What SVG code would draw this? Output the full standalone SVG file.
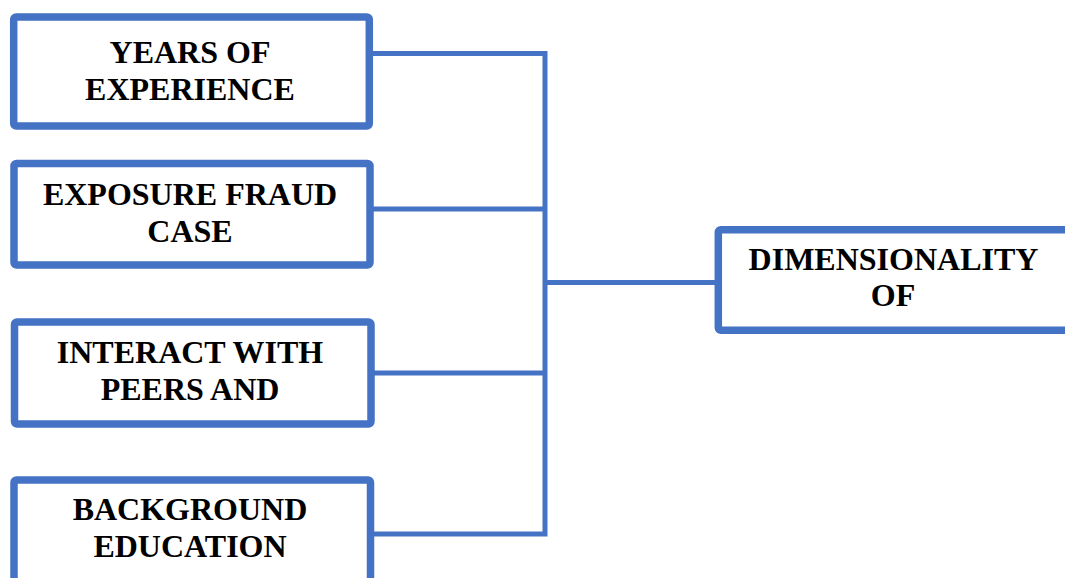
<svg xmlns="http://www.w3.org/2000/svg" width="1065" height="578" viewBox="0 0 1065 578">
<style>
.box{fill:#fff;stroke:#4472C4;stroke-width:7.5}
.lbl{font-family:"Liberation Serif","Times New Roman",serif;font-weight:bold;font-size:32px;fill:#000;text-anchor:middle}
.con{fill:none;stroke:#4472C4;stroke-width:5}
</style>
<rect width="1065" height="578" fill="#fff"/>
<g id="connectors">
<path class="con" d="M370 53.5H545M370 209H545M371 373H545M371 534H545M545 51V536.5M545 282.5H718"/>
</g>
<g id="n1">
<rect class="box" x="13.7" y="17" width="355.6" height="109" rx="2.5"/>
<text class="lbl" x="190" y="62.5">YEARS OF</text>
<text class="lbl" x="190" y="100">EXPERIENCE</text>
</g>
<g id="n2">
<rect class="box" x="14" y="163.5" width="356" height="101.5" rx="2.5"/>
<text class="lbl" x="190" y="205">EXPOSURE FRAUD</text>
<text class="lbl" x="190" y="241.5">CASE</text>
</g>
<g id="n3">
<rect class="box" x="14.5" y="322" width="356.5" height="102" rx="2.5"/>
<text class="lbl" x="190" y="362.5">INTERACT WITH</text>
<text class="lbl" x="190" y="400">PEERS AND</text>
</g>
<g id="n4">
<rect class="box" x="14" y="480" width="356.5" height="110" rx="2.5"/>
<text class="lbl" x="190" y="520">BACKGROUND</text>
<text class="lbl" x="190" y="557">EDUCATION</text>
</g>
<g id="n5">
<rect class="box" x="718.3" y="229.7" width="400" height="100.6" rx="2.5"/>
<text class="lbl" x="893.5" y="270">DIMENSIONALITY</text>
<text class="lbl" x="893" y="306">OF</text>
</g>
</svg>
